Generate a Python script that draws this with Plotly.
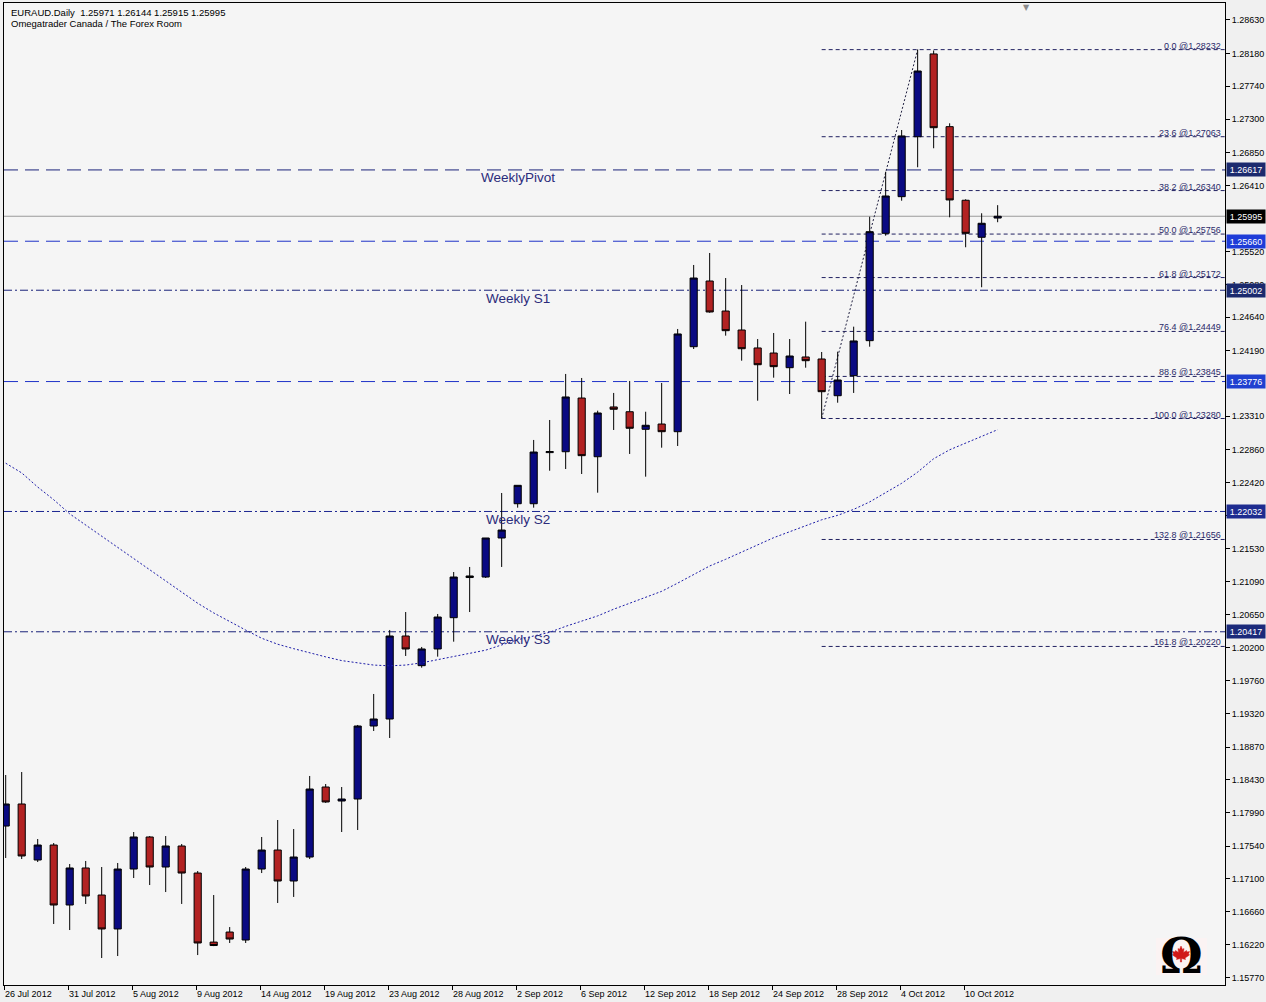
import plotly.graph_objects as go

# ---------------- data ----------------
bar_index = list(range(63))

opens = [1.17809, 1.18105, 1.17353, 1.17554, 1.16749, 1.17246, 1.16883, 1.16427, 1.17232, 1.17662,
         1.17259, 1.17541, 1.17178, 1.16251, 1.16386, 1.16279, 1.17232, 1.17487, 1.17071, 1.17393,
         1.18333, 1.18145, 1.18172, 1.19152, 1.19246, 1.20360, 1.19962, 1.20186, 1.20606, 1.21145,
         1.21152, 1.21676, 1.22136, 1.22136, 1.22822, 1.22834, 1.23555, 1.22767, 1.23435, 1.23371,
         1.23135, 1.23206, 1.23103, 1.24244, 1.25126, 1.24723, 1.24468, 1.24227, 1.24159, 1.23962,
         1.24106, 1.24079, 1.23586, 1.23855, 1.24325, 1.25766, 1.26258, 1.27063, 1.28174, 1.27198,
         1.26210, 1.25713, 1.25971]
highs = [1.18494, 1.18534, 1.17635, 1.17581, 1.17299, 1.17340, 1.17259, 1.17313, 1.17729, 1.17675,
         1.17675, 1.17568, 1.17205, 1.16883, 1.16453, 1.17259, 1.17662, 1.17890, 1.17769, 1.18481,
         1.18373, 1.18333, 1.19166, 1.19582, 1.20441, 1.20682, 1.20213, 1.20656, 1.21219, 1.21287,
         1.21676, 1.22280, 1.22383, 1.22992, 1.23260, 1.23878, 1.23824, 1.23385, 1.23623, 1.23784,
         1.23371, 1.23757, 1.24482, 1.25341, 1.25502, 1.25166, 1.25072, 1.24347, 1.24428, 1.24347,
         1.24580, 1.24173, 1.24177, 1.24513, 1.25989, 1.26593, 1.27153, 1.28232, 1.28220, 1.27243,
         1.26223, 1.26035, 1.26144]
lows = [1.17380, 1.17366, 1.17326, 1.16494, 1.16413, 1.16763, 1.16037, 1.16064, 1.17111, 1.17017,
        1.16923, 1.16763, 1.16077, 1.16197, 1.16239, 1.16239, 1.17178, 1.16776, 1.16857, 1.17366,
        1.18120, 1.17729, 1.17756, 1.19085, 1.18991, 1.20092, 1.19935, 1.20083, 1.20284, 1.20682,
        1.21139, 1.21287, 1.22083, 1.22083, 1.22579, 1.22602, 1.22535, 1.22284, 1.23126, 1.22804,
        1.22499, 1.22888, 1.22911, 1.24213, 1.24700, 1.24392, 1.24056, 1.23519, 1.23828, 1.23609,
        1.23962, 1.23280, 1.23492, 1.23623, 1.24244, 1.25734, 1.26204, 1.26653, 1.26908, 1.25981,
        1.25579, 1.25042, 1.25915]
closes = [1.18105, 1.17407, 1.17554, 1.16749, 1.17246, 1.16870, 1.16427, 1.17232, 1.17662, 1.17259,
          1.17541, 1.17178, 1.16239, 1.16205, 1.16292, 1.17232, 1.17487, 1.17071, 1.17393, 1.18306,
          1.18132, 1.18172, 1.19152, 1.19246, 1.20360, 1.20186, 1.20186, 1.20615, 1.21152, 1.21166,
          1.21676, 1.21783, 1.22383, 1.22830, 1.22836, 1.23569, 1.22781, 1.23354, 1.23404, 1.23149,
          1.23189, 1.23103, 1.24415, 1.25166, 1.24710, 1.24459, 1.24217, 1.24002, 1.23976, 1.24119,
          1.24056, 1.23640, 1.23797, 1.24321, 1.25788, 1.26267, 1.27073, 1.27945, 1.27184, 1.26214,
          1.25766, 1.25901, 1.25995]

ma_values = [1.2268, 1.2255, 1.2236, 1.2219, 1.2200, 1.2185, 1.2169, 1.2154, 1.2139, 1.2125,
             1.2110, 1.2095, 1.2080, 1.2067, 1.2055, 1.2044, 1.2033, 1.2025, 1.2019, 1.2013,
             1.2008, 1.2003, 1.2000, 1.1997, 1.1996, 1.1997, 1.2000, 1.2004, 1.2009, 1.2013,
             1.2017, 1.2024, 1.2031, 1.2036, 1.2041, 1.2049, 1.2056, 1.2063, 1.2072, 1.2080,
             1.2088, 1.2096, 1.2107, 1.2119, 1.2130, 1.2139, 1.2149, 1.2158, 1.2168, 1.2176,
             1.2184, 1.2192, 1.2198, 1.2206, 1.2216, 1.2228, 1.2241, 1.2256, 1.2274, 1.2286,
             1.2295, 1.2303, 1.2313]

date_tick_bars = [0, 4, 8, 12, 16, 20, 24, 28, 32, 36, 40, 44, 48, 52, 56, 60]
date_labels = ["26 Jul 2012", "31 Jul 2012", "5 Aug 2012", "9 Aug 2012", "14 Aug 2012",
               "19 Aug 2012", "23 Aug 2012", "28 Aug 2012", "2 Sep 2012", "6 Sep 2012",
               "12 Sep 2012", "18 Sep 2012", "24 Sep 2012", "28 Sep 2012", "4 Oct 2012",
               "10 Oct 2012"]

price_ticks = [1.28630, 1.28180, 1.27740, 1.27300, 1.26850, 1.26410, 1.25520, 1.25080,
               1.24640, 1.24190, 1.23310, 1.22860, 1.22420, 1.21980, 1.21530, 1.21090,
               1.20650, 1.20200, 1.19760, 1.19320, 1.18870, 1.18430, 1.17990, 1.17540,
               1.17100, 1.16660, 1.16220, 1.15770]

fib_ratios = ["0.0", "23.6", "38.2", "50.0", "61.8", "76.4", "88.6", "100.0", "132.8", "161.8"]
fib_levels = [1.28232, 1.27063, 1.26340, 1.25756, 1.25172, 1.24449, 1.23845, 1.23280, 1.21656, 1.20220]
fib_start_bar = 51
fib_end_bar = 57

pivot_names = ["WeeklyPivot", "", "Weekly S1", "", "Weekly S2", "Weekly S3"]
pivot_levels = [1.26617, 1.25660, 1.25002, 1.23776, 1.22032, 1.20417]
current_price = 1.25995

symbol = "EURAUD.Daily"
subtitle = "Omegatrader Canada / The Forex Room"

# ---------------- styling ----------------
FONT = "Liberation Sans, Arial, sans-serif"
x_range = [-0.106, 76.21]
y_range = [1.15675, 1.28858]

pivot_line_colors = ["#1a237a", "#1f33c8", "#1a237a", "#1f33c8", "#1a2590", "#1a237a"]
pivot_box_colors = ["#1B2A6E", "#1E3CD8", "#1B2A6E", "#2040D0", "#1E2C90", "#1B2A7A"]
pivot_dashes = ["14px,7px", "14px,7px", "8px,3px,2px,3px", "14px,7px", "8px,3px,2px,3px", "8px,3px,2px,3px"]

LOGO_X = (1181 - 4) / 1221
LOGO_Y = (985 - 956) / 982

fig = go.Figure()

fig.add_trace(go.Scatter(
    x=bar_index, y=ma_values, mode="lines",
    line=dict(color="#1c1ca8", width=1, dash="2px,2px"),
    hoverinfo="skip", showlegend=False))

fig.add_trace(go.Candlestick(
    x=bar_index, open=opens, high=highs, low=lows, close=closes,
    increasing=dict(line=dict(color="black", width=1), fillcolor="#0A0A82"),
    decreasing=dict(line=dict(color="black", width=1), fillcolor="#B22222"),
    whiskerwidth=0, showlegend=False))

shapes = []
# current price line
shapes.append(dict(type="line", xref="paper", x0=0, x1=1, yref="y", y0=current_price, y1=current_price,
                   line=dict(color="#9a9a9a", width=1), layer="below"))
# weekly pivot lines
for lvl, col, dsh in zip(pivot_levels, pivot_line_colors, pivot_dashes):
    shapes.append(dict(type="line", xref="paper", x0=0, x1=1, yref="y", y0=lvl, y1=lvl,
                       line=dict(color=col, width=1, dash=dsh), layer="below"))
# fibonacci levels
for lvl in fib_levels:
    shapes.append(dict(type="line", xref="x", x0=fib_start_bar, x1=x_range[1], yref="y", y0=lvl, y1=lvl,
                       line=dict(color="#202060", width=1, dash="4px,3px"), layer="below"))
# fibonacci trend line
shapes.append(dict(type="line", xref="x", yref="y",
                   x0=fib_start_bar, y0=fib_levels[7], x1=fib_end_bar, y1=fib_levels[0],
                   line=dict(color="#202040", width=1, dash="2px,2px"), layer="below"))
# logo background
shapes.append(dict(type="rect", xref="paper", yref="paper", xsizemode="pixel", ysizemode="pixel",
                   xanchor=LOGO_X, yanchor=LOGO_Y, x0=-25, x1=26, y0=-19, y1=18,
                   fillcolor="#FBF3F3", line=dict(width=0), layer="below"))
# logo maple leaf (pixel-sized path)
leaf = ("M 0 9 L 1.5 5.5 L 3 6.5 L 2.5 2.5 L 5.5 4.5 L 6 3 L 8.5 3.5 L 7.5 1 L 8.5 0 "
        "L 4 -3 L 4.5 -4.5 L 0.6 -3.5 L 0.6 -7 L -0.6 -7 L -0.6 -3.5 L -4.5 -4.5 L -4 -3 "
        "L -8.5 0 L -7.5 1 L -8.5 3.5 L -6 3 L -5.5 4.5 L -2.5 2.5 L -3 6.5 L -1.5 5.5 Z")
shapes.append(dict(type="path", xref="paper", yref="paper", xsizemode="pixel", ysizemode="pixel",
                   xanchor=LOGO_X, yanchor=LOGO_Y + 1 / 982, path=leaf,
                   fillcolor="#d01818", line=dict(color="#d01818", width=0.5), layer="above"))

annotations = []
# header
annotations.append(dict(xref="paper", yref="paper", x=0, y=1, xanchor="left", yanchor="top",
                        xshift=5, yshift=-2, showarrow=False, align="left",
                        text=f"{symbol}  {opens[-1]:.5f} {highs[-1]:.5f} {lows[-1]:.5f} {closes[-1]:.5f}",
                        font=dict(family=FONT, size=9.5, color="black")))
annotations.append(dict(xref="paper", yref="paper", x=0, y=1, xanchor="left", yanchor="top",
                        xshift=5, yshift=-13, showarrow=False, align="left", text=subtitle,
                        font=dict(family=FONT, size=9.5, color="black")))
# weekly labels
for name, lvl in zip(pivot_names, pivot_levels):
    if name:
        annotations.append(dict(xref="x", yref="y", x=32, y=lvl, xanchor="center", yanchor="middle",
                                yshift=-8, showarrow=False, text=name,
                                font=dict(family=FONT, size=13.5, color="#2B2B7B")))
# fib labels
for r, lvl in zip(fib_ratios, fib_levels):
    annotations.append(dict(xref="paper", yref="y", x=1, y=lvl, xanchor="right", yanchor="bottom",
                            xshift=-2, yshift=-3, showarrow=False, text=f"{r} @{lvl:.5f}",
                            font=dict(family=FONT, size=9, color="#2A2A6A")))
# price tags on axis
for lvl, col in zip(pivot_levels, pivot_box_colors):
    annotations.append(dict(xref="paper", yref="y", x=1, y=lvl, xanchor="left", yanchor="middle",
                            xshift=1, showarrow=False, text=f"{lvl:.5f}", bgcolor=col,
                            width=36, height=11, borderpad=1,
                            font=dict(family=FONT, size=9, color="white")))
annotations.append(dict(xref="paper", yref="y", x=1, y=current_price, xanchor="left", yanchor="middle",
                        xshift=1, showarrow=False, text=f"{current_price:.5f}", bgcolor="black",
                        width=36, height=11, borderpad=1,
                        font=dict(family=FONT, size=9, color="white")))
# chart-shift marker
annotations.append(dict(xref="x", yref="paper", x=63.8, y=1, xanchor="center", yanchor="top",
                        yshift=2, showarrow=False, text="▼",
                        font=dict(family="DejaVu Sans", size=8, color="#8a8a8a")))
# logo omega
annotations.append(dict(xref="paper", yref="paper", x=LOGO_X, y=LOGO_Y,
                        xanchor="center", yanchor="middle", showarrow=False, text="<b>Ω</b>",
                        font=dict(family="DejaVu Serif", size=48, color="black")))

fig.update_layout(
    width=1266, height=1002, autosize=False,
    margin=dict(l=4, r=41, t=3, b=17, pad=0),
    paper_bgcolor="#F0F0F0", plot_bgcolor="#F5F5F5",
    showlegend=False, boxgap=0.36,
    shapes=shapes, annotations=annotations,
    font=dict(family=FONT, size=9, color="black"),
    xaxis=dict(range=x_range, tickmode="array",
               tickvals=[b - 0.1 for b in date_tick_bars], ticktext=date_labels,
               ticks="outside", ticklen=4, tickcolor="black", ticklabelposition="outside right",
               showline=True, linecolor="black", linewidth=1, mirror=True,
               showgrid=False, zeroline=False, rangeslider=dict(visible=False),
               tickfont=dict(family=FONT, size=9, color="black")),
    yaxis=dict(range=y_range, side="right", tickmode="array",
               tickvals=price_ticks, ticktext=[f"{v:.5f}" for v in price_ticks],
               ticks="outside", ticklen=4, tickcolor="black",
               showline=True, linecolor="black", linewidth=1, mirror=True,
               showgrid=False, zeroline=False,
               tickfont=dict(family=FONT, size=9, color="black")),
)

fig.write_html("out.html", config={"displayModeBar": False},
               post_script="document.body.style.margin='0';document.body.style.padding='0';"
                           "document.documentElement.style.overflow='hidden';")
